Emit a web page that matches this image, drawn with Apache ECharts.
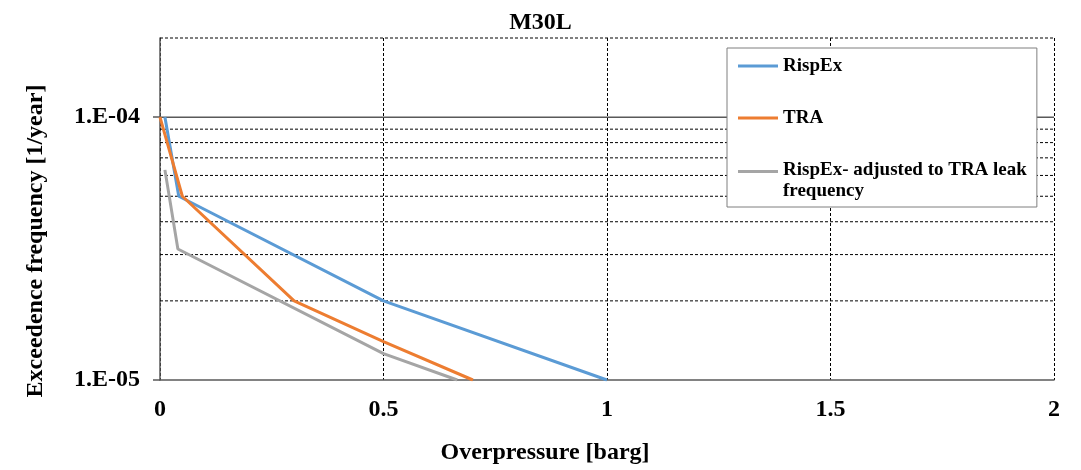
<!DOCTYPE html>
<html>
<head>
<meta charset="utf-8">
<script src="https://cdn.jsdelivr.net/npm/echarts@6/dist/echarts.min.js"></script>
<style>
html,body{margin:0;padding:0;background:#fff;}
#chart{width:1081px;height:470px;}
</style>
</head>
<body>
<div id="chart"></div>
<script>
// ---- data ----
const seriesNames = ['RispEx', 'TRA', 'RispEx- adjusted to TRA leak\nfrequency'];
const rispEx = [[0.011, 1e-4], [0.042, 5e-5], [0.5, 2e-5], [1.0, 1e-5]];
const tra = [[0, 1e-4], [0.05, 5e-5], [0.3, 2e-5], [0.5, 1.4e-5], [0.7, 1e-5]];
const rispExAdj = [[0.011, 6.3e-5], [0.04, 3.15e-5], [0.5, 1.26e-5], [0.665, 1e-5]];
const xTicks = [0, 0.5, 1, 1.5, 2];
const yLabelValues = [1e-5, 1e-4];
const minorGridValues = [2e-5, 3e-5, 4e-5, 5e-5, 6e-5, 7e-5, 8e-5, 9e-5, 2e-4];
const majorGridValues = [1e-4];

const FONT = 'Liberation Serif';
const colors = ['#5B9BD5', '#ED7D31', '#A5A5A5'];
const xMin = xTicks[0], xMax = xTicks[xTicks.length - 1];

function expLabel(v) {
  const e = Math.round(Math.log10(v));
  if (Math.abs(Math.log10(v) - e) > 1e-6) return '';
  const a = Math.abs(e);
  return '1.E' + (e < 0 ? '-' : '+') + (a < 10 ? '0' + a : '' + a);
}

const barMid = 'path://M0,9H40V12H0Z M0,0L0,0 M0,21L0,21';
const barTop = 'path://M0,0H40V3H0Z M0,21L0,21';

function gridSeries(v, major) {
  return {
    type: 'line', silent: true, symbol: 'none', z: 1, clip: false,
    data: [[xMin, v], [xMax, v]],
    lineStyle: major ? {color: '#595959', type: 'solid', width: 1.5}
                     : {color: '#000', type: [3, 2], width: 1},
    tooltip: {show: false}
  };
}

const dataSeries = [
  {name: seriesNames[0], type: 'line', data: rispEx, symbol: 'none',
   lineStyle: {color: colors[0], width: 3}, itemStyle: {color: colors[0]}, z: 3},
  {name: seriesNames[1], type: 'line', data: tra, symbol: 'none',
   lineStyle: {color: colors[1], width: 3}, itemStyle: {color: colors[1]}, z: 3},
  {name: seriesNames[2], type: 'line', data: rispExAdj, symbol: 'none',
   lineStyle: {color: colors[2], width: 3}, itemStyle: {color: colors[2]}, z: 3}
];

const chart = echarts.init(document.getElementById('chart'), null, {renderer: 'canvas'});
chart.setOption({
  animation: false,
  backgroundColor: '#fff',
  title: {
    text: 'M30L', left: 'center', top: 6,
    textStyle: {fontFamily: FONT, fontSize: 24, fontWeight: 'bold', color: '#000'}
  },
  grid: {left: 160, right: 27, top: 38, bottom: 90, containLabel: false},
  legend: {
    orient: 'vertical', left: 727, top: 48,
    padding: [7.5, 10, 5.5, 11],
    backgroundColor: '#fff', borderColor: '#7f7f7f', borderWidth: 1,
    itemWidth: 40, itemHeight: 21, itemGap: 31,
    selectedMode: false, z: 10,
    itemStyle: {borderWidth: 0},
    textStyle: {fontFamily: FONT, fontSize: 19, fontWeight: 'bold', color: '#000', lineHeight: 21},
    data: [
      {name: seriesNames[0], icon: barMid},
      {name: seriesNames[1], icon: barMid},
      {name: seriesNames[2], icon: barTop}
    ]
  },
  xAxis: {
    type: 'value', min: xMin, max: xMax, interval: 0.5,
    name: 'Overpressure [barg]', nameLocation: 'middle', nameGap: 61,
    nameTextStyle: {fontFamily: FONT, fontSize: 24, fontWeight: 'bold', color: '#000', padding: [0, 124, 0, 0]},
    axisLine: {show: true, lineStyle: {color: '#595959', width: 1.5}},
    axisTick: {show: false},
    axisLabel: {
      margin: 18, fontFamily: FONT, fontSize: 24, fontWeight: 'bold', color: '#000',
      formatter: v => (xTicks.indexOf(v) >= 0 ? String(v) : '')
    },
    splitLine: {show: true, lineStyle: {color: '#000', type: [3, 2], width: 1}}
  },
  yAxis: {
    type: 'log', logBase: 10, min: 1e-5, max: 2e-4,
    name: 'Exceedence frequency [1/year]', nameLocation: 'middle', nameGap: 112,
    nameTextStyle: {fontFamily: FONT, fontSize: 24, fontWeight: 'bold', color: '#000', padding: [0, 64, 0, 0]},
    axisLine: {show: true, lineStyle: {color: '#595959', width: 1.5}},
    axisTick: {show: true, inside: false, length: 7, customValues: yLabelValues, lineStyle: {color: '#595959', width: 1.5}},
    axisLabel: {
      margin: 20, fontFamily: FONT, fontSize: 24, fontWeight: 'bold', color: '#000',
      customValues: yLabelValues,
      formatter: v => expLabel(v)
    },
    splitLine: {show: false}
  },
  series: minorGridValues.map(v => gridSeries(v, false))
    .concat(majorGridValues.map(v => gridSeries(v, true)))
    .concat(dataSeries)
});
</script>
</body>
</html>
